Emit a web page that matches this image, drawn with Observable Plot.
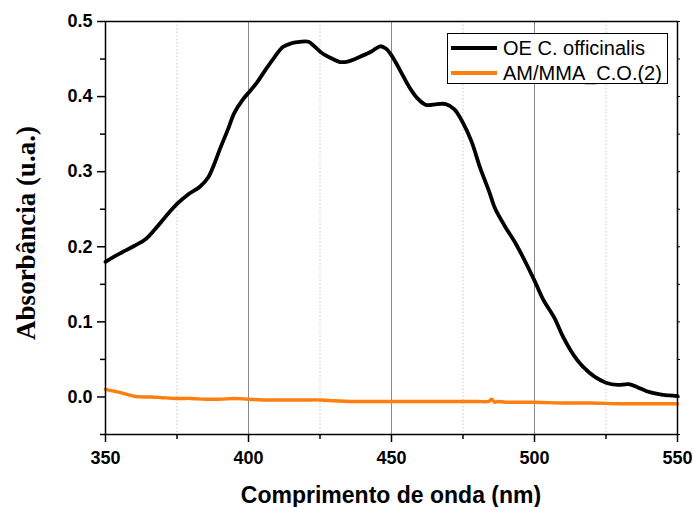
<!DOCTYPE html>
<html>
<head>
<meta charset="utf-8">
<script src="https://cdn.jsdelivr.net/npm/d3@7"></script>
<script src="https://cdn.jsdelivr.net/npm/@observablehq/plot@0.6"></script>
<style>
  html, body { margin: 0; padding: 0; background: #fff; }
  #wrap { position: relative; width: 693px; height: 507px; }
  #legend { position: absolute; left: 447px; top: 33px; width: 221px; height: 51px; border: 1px solid #000; background: #fff; box-sizing: border-box; font-family: "Liberation Sans", Arial, sans-serif; font-size: 20px; }
  .row { position: absolute; left: 3px; display: flex; align-items: center; height: 26px; }
  .sw { width: 46px; height: 4px; margin-right: 6px; }
</style>
</head>
<body>
<div id="wrap"></div>
<script>
// Series 1: OE C. officinalis
const wl1 = [350,353,356,360,364,367,371,375,379,383,386,388,390,393,395,398,400,403,406,409,412,415,418,421,423,426,429,432,435,439,443,446,448,450,453,456,459,462,466,469,472,475,478,481,484,486,487,490,493,496,500,503,507,510,514,517,521,525,529,533,536,539,543,547,550];
const abs1 = [0.180,0.187,0.193,0.201,0.210,0.222,0.240,0.257,0.270,0.280,0.293,0.310,0.330,0.358,0.378,0.396,0.405,0.419,0.436,0.452,0.466,0.471,0.473,0.473,0.467,0.457,0.451,0.446,0.447,0.453,0.460,0.467,0.464,0.455,0.435,0.414,0.398,0.389,0.390,0.390,0.383,0.365,0.340,0.305,0.275,0.253,0.245,0.225,0.207,0.186,0.155,0.130,0.105,0.080,0.054,0.040,0.027,0.019,0.016,0.017,0.013,0.008,0.004,0.002,0.001];
// Series 2: AM/MMA_C.O.(2)
const wl2 = [350,355,360,363,366,370,375,380,385,390,395,400,405,410,415,420,425,430,435,440,445,450,460,470,480,484,485,486,487,490,500,510,520,530,540,550];
const abs2 = [0.010,0.006,0.001,0.000,0.000,-0.001,-0.002,-0.002,-0.003,-0.003,-0.002,-0.003,-0.004,-0.004,-0.004,-0.004,-0.004,-0.005,-0.006,-0.006,-0.006,-0.006,-0.006,-0.006,-0.006,-0.006,-0.003,-0.007,-0.006,-0.007,-0.007,-0.008,-0.008,-0.009,-0.009,-0.009];

const seriesNames = ["OE C. officinalis", "AM/MMA_C.O.(2)"];
const seriesColors = ["#000000", "#ff7f0e"];
const xMajor = [350, 400, 450, 500, 550];
const xMinor = [375, 425, 475, 525];
const yMajor = [0.0, 0.1, 0.2, 0.3, 0.4, 0.5];
const yMinor = [-0.05, 0.05, 0.15, 0.25, 0.35, 0.45];
const xTitle = "Comprimento de onda (nm)";
const yTitle = "Absorbância (u.a.)";

const d1 = wl1.map((x, i) => ({x, y: abs1[i]}));
const d2 = wl2.map((x, i) => ({x, y: abs2[i]}));

const tickFont = {fontFamily: "Liberation Sans, Arial, sans-serif", fontWeight: "bold", fontSize: "18px"};
const noLabel = () => "";

const chart = Plot.plot({
  width: 693,
  height: 507,
  marginLeft: 105,
  marginRight: 16,
  marginTop: 21,
  marginBottom: 73,
  style: {background: "#fff", color: "#000", fontFamily: "Liberation Sans, Arial, sans-serif"},
  x: {domain: [350, 550]},
  y: {domain: [-0.05, 0.5]},
  marks: [
    Plot.ruleX(xMinor, {stroke: "#c8c8c8", strokeWidth: 1, strokeDasharray: "1.5,2"}),
    Plot.ruleX(xMajor.slice(1, -1), {stroke: "#888", strokeWidth: 1}),
    Plot.line(d2, {x: "x", y: "y", stroke: seriesColors[1], strokeWidth: 3.4, curve: "catmull-rom"}),
    Plot.line(d1, {x: "x", y: "y", stroke: seriesColors[0], strokeWidth: 3.8, curve: "catmull-rom"}),
    Plot.frame({stroke: "#000", strokeWidth: 1.5}),
    Plot.axisY(yMajor, {tickSize: 8, tickPadding: 5, tickFormat: d3.format(".1f"), strokeWidth: 1.5, ...tickFont, label: null}),
    Plot.axisY(yMinor, {tickSize: 5, tickFormat: noLabel, strokeWidth: 1.5, label: null}),
    Plot.axisY(yMajor.concat(yMinor), {anchor: "right", tickSize: 2, tickFormat: noLabel, strokeWidth: 1, label: null}),
    Plot.axisX(xMajor, {tickSize: 8, tickPadding: 9, tickFormat: d3.format("d"), strokeWidth: 1.5, ...tickFont, label: null}),
    Plot.axisX(xMinor, {tickSize: 5, tickFormat: noLabel, strokeWidth: 1.5, label: null})
  ]
});

const wrap = document.getElementById("wrap");
wrap.appendChild(chart);

// Axis titles
const svg = d3.select(chart);
svg.append("text")
  .attr("x", 391).attr("y", 503)
  .attr("text-anchor", "middle")
  .style("font-family", "Liberation Sans, Arial, sans-serif")
  .style("font-weight", "bold").style("font-size", "23px")
  .text(xTitle);
svg.append("text")
  .attr("transform", "translate(35,233) rotate(-90)")
  .attr("text-anchor", "middle")
  .style("font-family", "Liberation Serif, Times New Roman, serif")
  .style("font-weight", "bold").style("font-size", "27px")
  .text(yTitle);

// Legend
const legend = document.createElement("div");
legend.id = "legend";
seriesNames.forEach((name, i) => {
  const row = document.createElement("div");
  row.className = "row";
  row.style.top = (i === 0 ? 1 : 26) + "px";
  const sw = document.createElement("div");
  sw.className = "sw";
  sw.style.background = seriesColors[i];
  const t = document.createElement("span");
  t.textContent = name;
  row.appendChild(sw);
  row.appendChild(t);
  legend.appendChild(row);
});
wrap.appendChild(legend);
</script>
</body>
</html>
